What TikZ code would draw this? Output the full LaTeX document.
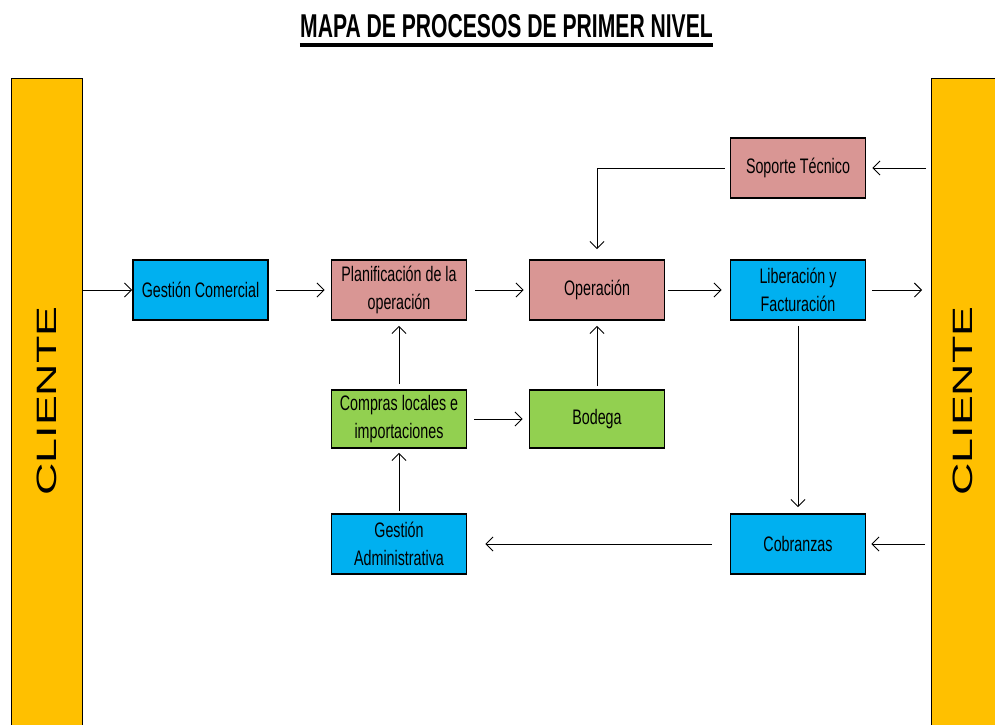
\documentclass[tikz,border=0pt]{standalone}
\usepackage{fontspec}
\setmainfont{Liberation Sans}
\newfontfamily\boxfamily[FakeStretch=0.68]{Liberation Sans}
\newfontfamily\titlefamily[FakeStretch=0.64]{Liberation Sans}
\usetikzlibrary{arrows.meta}
\definecolor{cliyellow}{HTML}{FFC000}
\definecolor{procblue}{HTML}{00B0F0}
\definecolor{procpink}{HTML}{D99694}
\definecolor{procgreen}{HTML}{92D050}
\begin{document}
\begin{tikzpicture}[x=1pt,y=-1pt,
  procbox/.style={draw=black, line width=1.8pt, minimum width=135pt, minimum height=60pt,
    inner sep=0pt, align=center, font=\boxfamily\fontsize{21}{28}\selectfont},
  clibar/.style={draw=black, line width=1.2pt, fill=cliyellow, minimum width=71pt,
    minimum height=680pt, inner sep=0pt},
  flow/.style={line width=0.9pt, -{Straight Barb[length=7pt,width=14pt,line width=0.9pt]}}
]
\useasboundingbox (0,0) rectangle (995,724);
\fill[white] (0,0) rectangle (995,724);
% title
\node[anchor=base, inner sep=0pt, font=\titlefamily\bfseries\fontsize{33}{36}\selectfont]
  (title) at (506.5,37) {MAPA DE PROCESOS DE PRIMER NIVEL};
\draw[line width=4pt] ([yshift=-7.5pt]title.base west) -- ([yshift=-7.5pt]title.base east);
% client bars
\node[clibar, anchor=north west] (cl) at (11,78) {};
\node[clibar, anchor=north west] (cr) at (931,78) {};
\node[rotate=90, inner sep=0pt, font=\fontsize{28}{30}\selectfont] (cltext) at (47,401) {\scalebox{1.6}[1]{CLIENTE}};
\node[rotate=90, inner sep=0pt, font=\fontsize{28}{30}\selectfont] (crtext) at (963,401) {\scalebox{1.6}[1]{CLIENTE}};
% process boxes
\node[procbox, fill=procblue] (gc) at (200.5,290) {Gestión Comercial};
\node[procbox, fill=procpink] (plan) at (399,290) {Planificación de la\\operación};
\node[procbox, fill=procpink] (op) at (597,290) {Operación};
\node[procbox, fill=procblue] (lib) at (798,290) {Liberación y\\Facturación};
\node[procbox, fill=procpink] (sop) at (798,168) {Soporte Técnico};
\node[procbox, fill=procgreen, minimum height=58pt] (comp) at (399,419) {Compras locales e\\importaciones};
\node[procbox, fill=procgreen, minimum height=58pt] (bod) at (597,419) {Bodega};
\node[procbox, fill=procblue] (gadm) at (399,544) {Gestión\\Administrativa};
\node[procbox, fill=procblue] (cob) at (798,544) {Cobranzas};
% connectors
\draw[flow] (cl.east |- gc.west) -- (gc.west);
\draw[flow, shorten <=7pt, shorten >=6pt] (gc) -- (plan);
\draw[flow, shorten <=8pt, shorten >=5pt] (plan) -- (op);
\draw[flow, shorten <=3pt, shorten >=8pt] (op) -- (lib);
\draw[flow, shorten <=6pt, shorten >=9pt] (lib.east) -- (cr.west |- lib.east);
\draw[flow, shorten <=5pt, shorten >=6pt] (cr.west |- sop.east) -- (sop.east);
\draw[flow, shorten <=5pt, shorten >=10pt] (sop.west) -- (op.north |- sop.west) -- (op.north);
\draw[flow, shorten <=5pt, shorten >=5pt] (comp) -- (plan);
\draw[flow, shorten <=3pt, shorten >=5pt] (bod) -- (op);
\draw[flow, shorten <=7pt, shorten >=6pt] (comp) -- (bod);
\draw[flow, shorten <=2pt, shorten >=4pt] (gadm) -- (comp);
\draw[flow, shorten <=18pt, shorten >=18pt] (cob) -- (gadm);
\draw[flow, shorten <=6pt, shorten >=5pt] (cr.west |- cob.east) -- (cob.east);
\draw[flow, shorten <=5pt, shorten >=6pt] (lib) -- (cob);
\end{tikzpicture}
\end{document}
